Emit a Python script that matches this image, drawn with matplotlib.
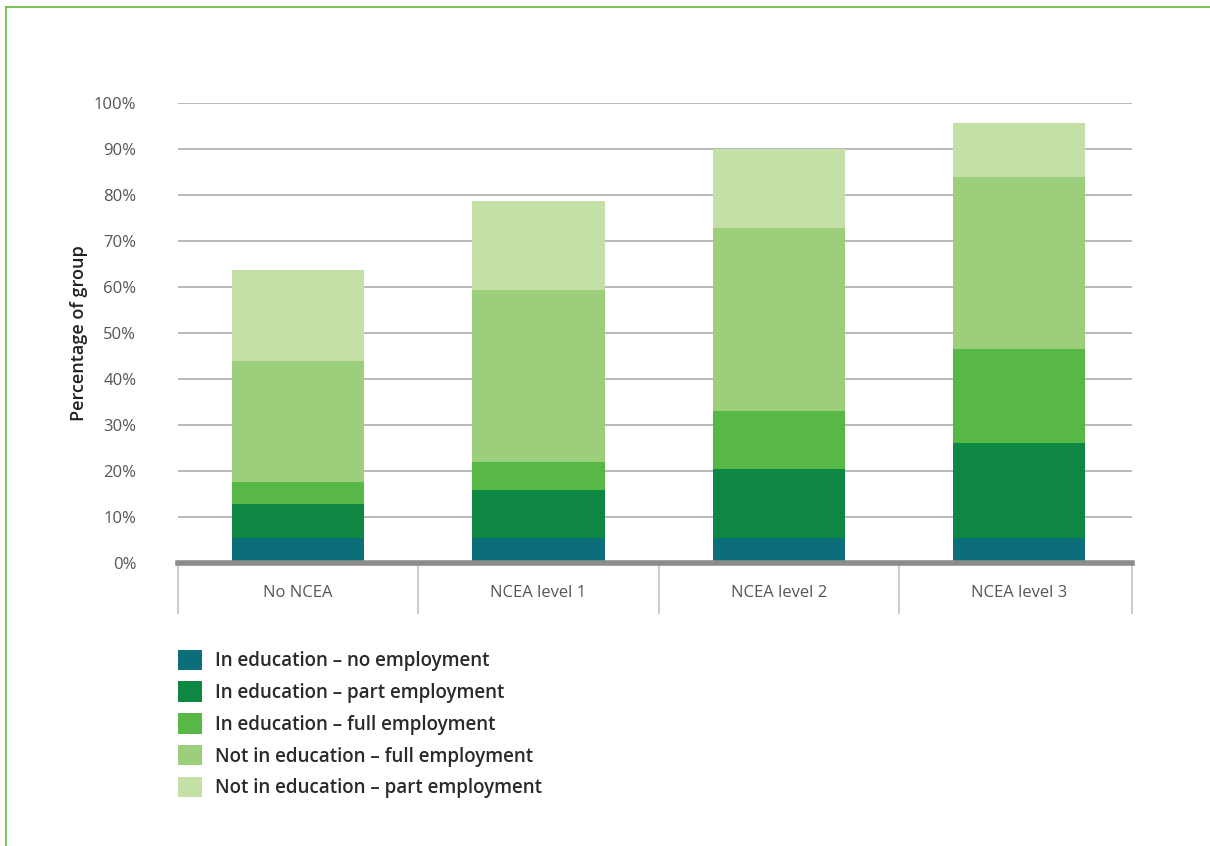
import matplotlib
import matplotlib.pyplot as plt
import numpy as np
from matplotlib.patches import Patch

matplotlib.use("Agg")

categories = ["No NCEA", "NCEA level 1", "NCEA level 2", "NCEA level 3"]
series_names = [
    "In education – no employment",
    "In education – part employment",
    "In education – full employment",
    "Not in education – full employment",
    "Not in education – part employment",
]
edu_no_emp = [5.4, 5.4, 5.4, 5.4]
edu_part_emp = [7.4, 10.5, 15.0, 20.7]
edu_full_emp = [4.8, 6.1, 12.6, 20.4]
not_edu_full_emp = [26.3, 37.3, 39.8, 37.4]
not_edu_part_emp = [19.8, 19.4, 17.2, 11.8]
yticks = list(range(0, 101, 10))

colors = ["#0b6e78", "#0e8742", "#57b847", "#9bcf7b", "#c5e0a6"]
series = [edu_no_emp, edu_part_emp, edu_full_emp, not_edu_full_emp, not_edu_part_emp]

fig = plt.figure(figsize=(12.1, 8.46), dpi=100)
ax = fig.add_axes([0.1471, 0.3345, 0.7884, 0.5438])

x = np.arange(len(categories))
bottom = np.zeros(len(categories))
for vals, col in zip(series, colors):
    ax.bar(x, vals, bottom=bottom, width=0.55, color=col, zorder=3)
    bottom += np.array(vals)

x_right = len(categories) - 0.53
ax.set_xlim(-0.5, x_right)
ax.set_ylim(0, 100)
ax.set_yticks(yticks)
ax.set_yticklabels([f"{t}%" for t in yticks], fontsize=12, color="#555555",
                   fontfamily="Open Sans")
ax.tick_params(axis="y", length=0, pad=30)
ax.tick_params(axis="x", length=0, pad=16)
ax.set_xticks(x)
ax.set_xticklabels(categories, fontsize=12, color="#555555", fontfamily="Open Sans")
ax.grid(True, axis="y", color="#b3b3b3", linewidth=1.3, zorder=0)
for s in ax.spines.values():
    s.set_visible(False)
ax.axhline(0, color="#8c8c8c", linewidth=4, zorder=4, clip_on=False)

# category separators below the baseline
trans = ax.get_xaxis_transform()
seps = list(np.arange(-0.5, len(categories) - 1, 1.0)) + [x_right]
for b in seps:
    ax.plot([b, b], [0, -0.108], transform=trans, color="#c8c8c8",
            linewidth=1.3, clip_on=False, zorder=2)

ax.set_ylabel("Percentage of group", fontsize=13, color="#222222",
              fontweight="semibold", fontfamily="Open Sans", labelpad=4)

handles = [Patch(facecolor=c, edgecolor="none") for c in colors]
fig.legend(handles, series_names, loc="upper left", bbox_to_anchor=(0.1405, 0.241),
           frameon=False, handlelength=1.3, handleheight=1.3,
           labelspacing=0.55, handletextpad=0.72, borderaxespad=0,
           prop={"family": "Open Sans", "weight": "semibold", "size": 13.5},
           labelcolor="#2a2a2a")

# thin green frame along top and left
fig.add_artist(plt.Line2D([0.005, 1.0], [0.992, 0.992], color="#6cc04a",
                          linewidth=1.3, transform=fig.transFigure))
fig.add_artist(plt.Line2D([0.005, 0.005], [0.0, 0.992], color="#6cc04a",
                          linewidth=1.3, transform=fig.transFigure))

fig.savefig("out.png", dpi=100)
